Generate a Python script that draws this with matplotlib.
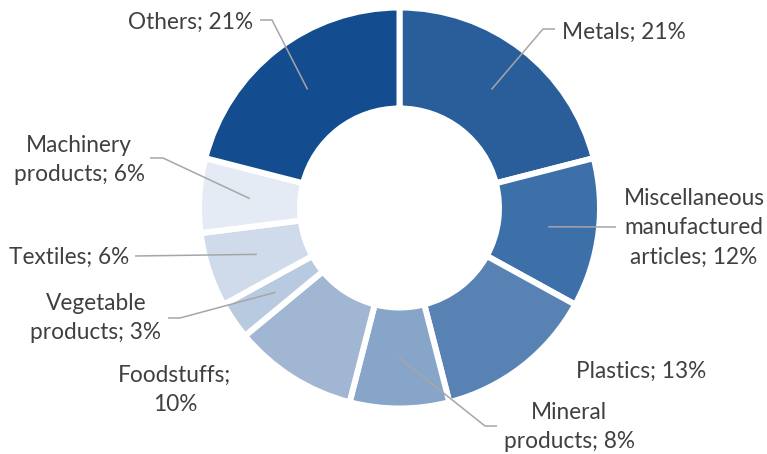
import numpy as np
import matplotlib
matplotlib.use("Agg")
import matplotlib.pyplot as plt

# Share of exports by product group (%)
categories = ["Metals", "Miscellaneous\nmanufactured\narticles", "Plastics",
              "Mineral\nproducts", "Foodstuffs;\n", "Vegetable\nproducts",
              "Textiles", "Machinery\nproducts", "Others"]
shares = [21, 12, 13, 8, 10, 3, 6, 6, 21]
colors = ["#2A5E9B", "#3D6FA8", "#5882B4", "#87A5C8", "#A1B6D2",
          "#B8CAE0", "#CFDBEA", "#E4EBF4", "#134C8F"]

W, H = 767, 454
fig = plt.figure(figsize=(W / 100, H / 100), dpi=100)
ax = fig.add_axes([0, 0, 1, 1])
ax.set_xlim(0, W)
ax.set_ylim(0, H)
ax.set_aspect("equal")
ax.axis("off")

cx, cy = 399.5, H - 208
edge = 6.0
r_out, r_in = 197.5, 102.5
ax.pie(shares, colors=colors, startangle=90, counterclock=False,
       center=(cx, cy), radius=r_out + edge / 2,
       wedgeprops=dict(width=(r_out - r_in) + edge, edgecolor="white",
                       linewidth=edge * 72 / 100))
ax.set_xlim(0, W)
ax.set_ylim(0, H)

# mid-ring anchor point of each wedge
cum = np.cumsum([0] + shares)
mid = (cum[:-1] + cum[1:]) / 2 / sum(shares)
ang = np.deg2rad(90 - 360 * mid)
r_mid = (r_out + r_in) / 2
anchors = [(cx + r_mid * np.cos(a), cy + r_mid * np.sin(a)) for a in ang]

# label centre (x, y from top) and leader path (points from top), per wedge
label_pos = [(624, 32), (694, 228), (641, 371), (569, 427), (175, 390),
             (96, 318), (69, 257), (79, 160), (191, 22)]
leaders = [[(543, 29), (555, 29)], [(616, 227)], None,
           [(485, 426), (497, 426)], None,
           [(180, 318), (168, 318)], [(135, 256)],
           [(163, 158), (150, 158)], [(272, 20), (260, 20)]]

font = dict(family=["Lato", "DejaVu Sans"], size=16.3, color="#404040")
for i, (cat, val) in enumerate(zip(categories, shares)):
    if cat.endswith(";\n"):
        txt = f"{cat}{val}%"
    else:
        txt = f"{cat}; {val}%"
    lx, ly = label_pos[i]
    ax.text(lx, H - ly, txt, ha="center", va="center", linespacing=1.5, **font)
    if leaders[i] is not None:
        pts = [anchors[i]] + [(x, H - y) for x, y in leaders[i]]
        xs, ys = zip(*pts)
        ax.plot(xs, ys, color="#A6A6A6", lw=1.1, solid_capstyle="butt")

fig.savefig("out.png", dpi=100)
